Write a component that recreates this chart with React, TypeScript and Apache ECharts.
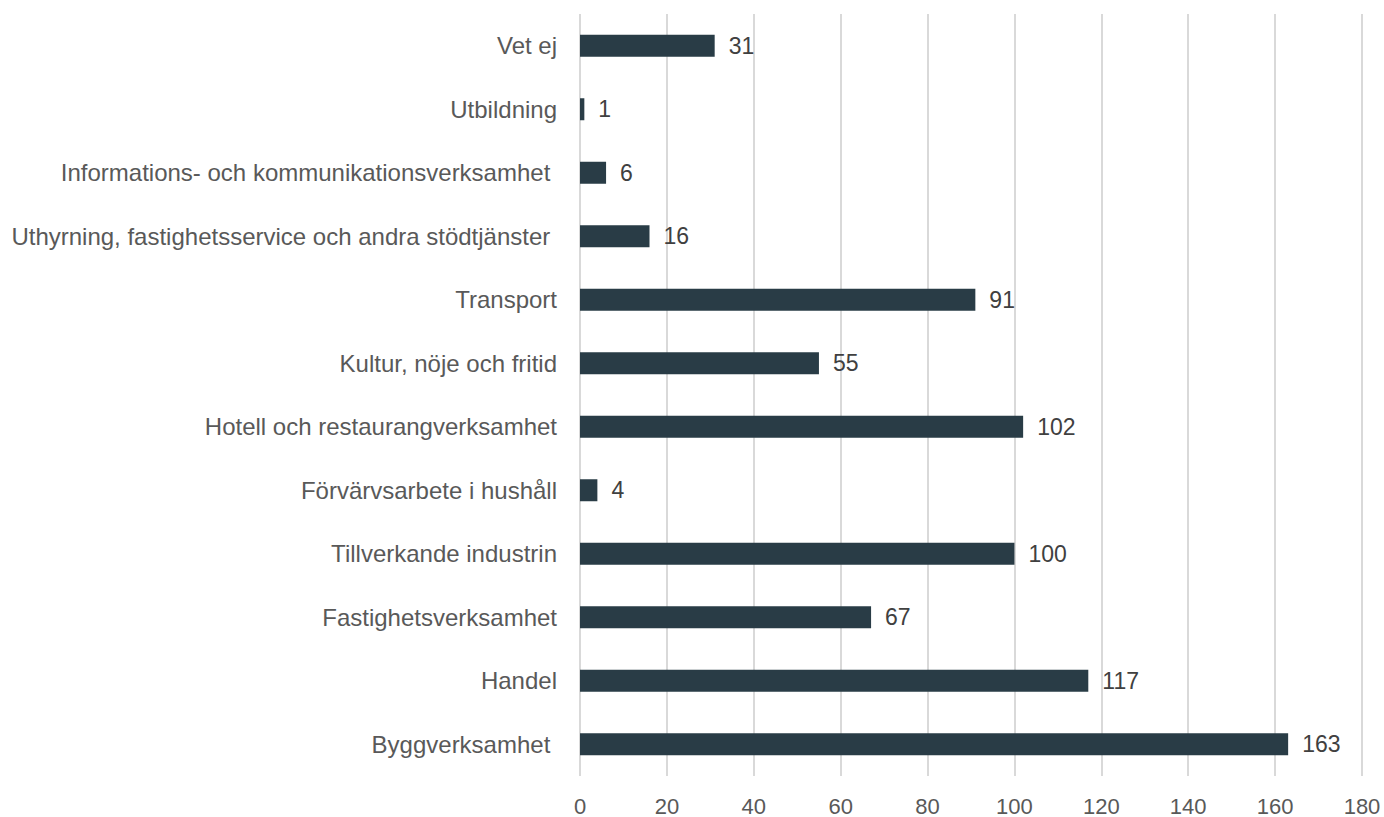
import React, { useEffect, useRef } from "react";
import * as echarts from "echarts";

const categories = [
  "Byggverksamhet ",
  "Handel",
  "Fastighetsverksamhet",
  "Tillverkande industrin",
  "Förvärvsarbete i hushåll",
  "Hotell och restaurangverksamhet",
  "Kultur, nöje och fritid",
  "Transport",
  "Uthyrning, fastighetsservice och andra stödtjänster ",
  "Informations- och kommunikationsverksamhet ",
  "Utbildning",
  "Vet ej",
];
const values = [163, 117, 67, 100, 4, 102, 55, 91, 16, 6, 1, 31];
const xTicks = { min: 0, max: 180, interval: 20 };

export default function App() {
  const ref = useRef<HTMLDivElement>(null);
  useEffect(() => {
    if (!ref.current) return;
    const chart = echarts.init(ref.current, null, { renderer: "svg" });
    const font = "Liberation Sans, Arial, sans-serif";
    chart.setOption({
      animation: false,
      textStyle: { fontFamily: font },
      grid: { left: 580, right: 22, top: 14, bottom: 41, containLabel: false },
      xAxis: {
        type: "value",
        min: xTicks.min,
        max: xTicks.max,
        interval: xTicks.interval,
        axisLine: { show: false },
        axisTick: { show: false },
        splitLine: { show: true, lineStyle: { color: "#d9d9d9", width: 2 } },
        axisLabel: { color: "#595959", fontSize: 22, margin: 19, fontFamily: font },
      },
      yAxis: {
        type: "category",
        data: categories,
        axisLine: { show: false },
        axisTick: { show: false },
        axisLabel: { color: "#595959", fontSize: 24, margin: 23, fontFamily: font },
      },
      series: [
        {
          type: "bar",
          data: values,
          barWidth: 22,
          itemStyle: { color: "#293c46" },
          label: {
            show: true,
            position: "right",
            distance: 14,
            color: "#404040",
            fontSize: 23,
            fontFamily: font,
          },
        },
      ],
    });
    return () => chart.dispose();
  }, []);
  return (
    <div
      ref={ref}
      style={{ position: "fixed", left: 0, top: 0, width: 1384, height: 817, background: "#ffffff" }}
    />
  );
}
